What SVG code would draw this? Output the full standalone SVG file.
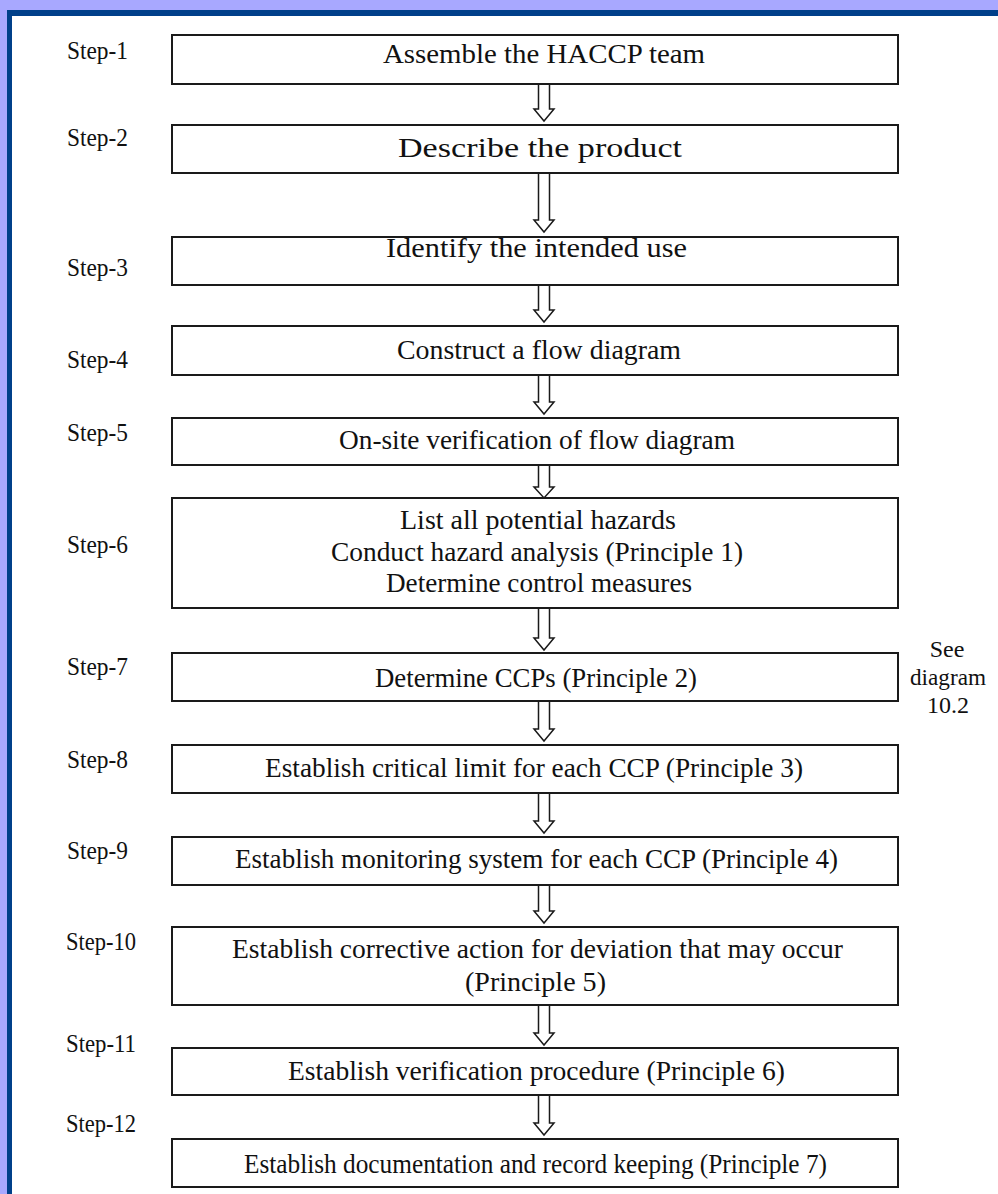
<svg xmlns="http://www.w3.org/2000/svg" width="998" height="1194" viewBox="0 0 998 1194">
<style>
.box{fill:#fff;stroke:#1a1a1a;stroke-width:2}
.t{font-size:28px;fill:#111;text-anchor:middle}
.s{font-size:25px;fill:#111}
.n{font-size:24px;fill:#111;text-anchor:middle}
.ar{fill:#fff;stroke:#1a1a1a;stroke-width:1.5}
</style>
<rect x="0" y="0" width="998" height="1194" fill="#a8a8ff"/>
<rect x="7" y="10" width="1000" height="1200" fill="#00408a"/>
<rect x="12" y="16" width="1000" height="1200" fill="#fff"/>

<g id="labels" font-family="Liberation Serif, Times New Roman, Times, serif">
<text class="s" x="67" y="59" textLength="61" lengthAdjust="spacingAndGlyphs">Step-1</text>
<text class="s" x="67" y="146" textLength="61" lengthAdjust="spacingAndGlyphs">Step-2</text>
<text class="s" x="67" y="276" textLength="61" lengthAdjust="spacingAndGlyphs">Step-3</text>
<text class="s" x="67" y="368" textLength="61" lengthAdjust="spacingAndGlyphs">Step-4</text>
<text class="s" x="67" y="441" textLength="61" lengthAdjust="spacingAndGlyphs">Step-5</text>
<text class="s" x="67" y="553" textLength="61" lengthAdjust="spacingAndGlyphs">Step-6</text>
<text class="s" x="67" y="675" textLength="61" lengthAdjust="spacingAndGlyphs">Step-7</text>
<text class="s" x="67" y="768" textLength="61" lengthAdjust="spacingAndGlyphs">Step-8</text>
<text class="s" x="67" y="859" textLength="61" lengthAdjust="spacingAndGlyphs">Step-9</text>
<text class="s" x="66" y="950" textLength="70" lengthAdjust="spacingAndGlyphs">Step-10</text>
<text class="s" x="66" y="1052" textLength="70" lengthAdjust="spacingAndGlyphs">Step-11</text>
<text class="s" x="66" y="1132" textLength="70" lengthAdjust="spacingAndGlyphs">Step-12</text>
</g>

<g id="nodes" font-family="Liberation Serif, Times New Roman, Times, serif">
<g id="node1"><rect class="box" x="172" y="35" width="726" height="49"/><text class="t" x="544" y="63" textLength="322" lengthAdjust="spacingAndGlyphs">Assemble the HACCP team</text></g>
<g id="node2"><rect class="box" x="172" y="125" width="726" height="48"/><text class="t" x="540" y="157" textLength="284" lengthAdjust="spacingAndGlyphs">Describe the product</text></g>
<g id="node3"><rect class="box" x="172" y="237" width="726" height="48"/><text class="t" x="536.5" y="257" textLength="301" lengthAdjust="spacingAndGlyphs">Identify the intended use</text></g>
<g id="node4"><rect class="box" x="172" y="326" width="726" height="49"/><text class="t" x="539" y="359" textLength="284" lengthAdjust="spacingAndGlyphs">Construct a flow diagram</text></g>
<g id="node5"><rect class="box" x="172" y="418" width="726" height="47"/><text class="t" x="537" y="449" textLength="396" lengthAdjust="spacingAndGlyphs">On-site verification of flow diagram</text></g>
<g id="node6"><rect class="box" x="172" y="498" width="726" height="110"/>
<text class="t" x="538" y="529" textLength="276" lengthAdjust="spacingAndGlyphs">List all potential hazards</text>
<text class="t" x="537" y="561" textLength="412" lengthAdjust="spacingAndGlyphs">Conduct hazard analysis (Principle 1)</text>
<text class="t" x="539" y="592" textLength="306" lengthAdjust="spacingAndGlyphs">Determine control measures</text></g>
<g id="node7"><rect class="box" x="172" y="653" width="726" height="48"/><text class="t" x="536" y="687" textLength="322" lengthAdjust="spacingAndGlyphs">Determine CCPs (Principle 2)</text></g>
<g id="node8"><rect class="box" x="172" y="745" width="726" height="48"/><text class="t" x="534" y="777" textLength="538" lengthAdjust="spacingAndGlyphs">Establish critical limit for each CCP (Principle 3)</text></g>
<g id="node9"><rect class="box" x="172" y="837" width="726" height="48"/><text class="t" x="536.5" y="868" textLength="603" lengthAdjust="spacingAndGlyphs">Establish monitoring system for each CCP (Principle 4)</text></g>
<g id="node10"><rect class="box" x="172" y="927" width="726" height="78"/>
<text class="t" x="537.5" y="958" textLength="611" lengthAdjust="spacingAndGlyphs">Establish corrective action for deviation that may occur</text>
<text class="t" x="535.5" y="991" textLength="141" lengthAdjust="spacingAndGlyphs">(Principle 5)</text></g>
<g id="node11"><rect class="box" x="172" y="1048" width="726" height="47"/><text class="t" x="536.5" y="1080" textLength="497" lengthAdjust="spacingAndGlyphs">Establish verification procedure (Principle 6)</text></g>
<g id="node12"><rect class="box" x="172" y="1139" width="726" height="48"/><text class="t" x="535.5" y="1173" textLength="583" lengthAdjust="spacingAndGlyphs">Establish documentation and record keeping (Principle 7)</text></g>
</g>

<g id="note" font-family="Liberation Serif, Times New Roman, Times, serif">
<text class="n" x="947" y="657">See</text>
<text class="n" x="948" y="685" textLength="76" lengthAdjust="spacingAndGlyphs">diagram</text>
<text class="n" x="948" y="713">10.2</text>
</g>

<g id="connectors">
<path class="ar" d="M538.5,85 V109 H534 L544,121 L554,109 H549.5 V85"/>
<path class="ar" d="M538.5,174 V220 H534 L544,232 L554,220 H549.5 V174"/>
<path class="ar" d="M538.5,286 V310 H534 L544,322 L554,310 H549.5 V286"/>
<path class="ar" d="M538.5,376 V402 H534 L544,414 L554,402 H549.5 V376"/>
<path class="ar" d="M538.5,466 V487 H534 L544,498 L554,487 H549.5 V466"/>
<path class="ar" d="M538.5,609 V638 H534 L544,650 L554,638 H549.5 V609"/>
<path class="ar" d="M538.5,702 V729 H534 L544,741 L554,729 H549.5 V702"/>
<path class="ar" d="M538.5,794 V821 H534 L544,833 L554,821 H549.5 V794"/>
<path class="ar" d="M538.5,886 V911 H534 L544,923 L554,911 H549.5 V886"/>
<path class="ar" d="M538.5,1006 V1033 H534 L544,1045 L554,1033 H549.5 V1006"/>
<path class="ar" d="M538.5,1096 V1123 H534 L544,1135 L554,1123 H549.5 V1096"/>
</g>
</svg>
